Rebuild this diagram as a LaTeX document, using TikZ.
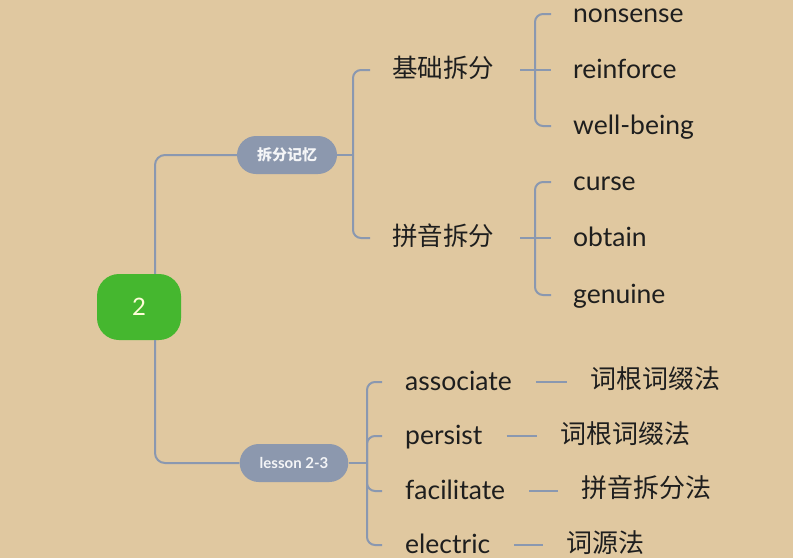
\documentclass[tikz,border=0pt]{standalone}
\usepackage{fontspec}
\setmainfont{Lato}
\newfontfamily\cjk{Noto Sans CJK SC}
\usetikzlibrary{positioning}

\definecolor{paper}{HTML}{E0C8A0}
\definecolor{linkc}{HTML}{8A98B0}
\definecolor{rootc}{HTML}{45B72F}
\definecolor{pillc}{HTML}{8C98AE}
\definecolor{inkc}{HTML}{1E1E1E}

\tikzset{
  link/.style={draw=linkc, line width=2pt},
  rootnode/.style={fill=rootc, rounded corners=22pt, minimum width=84pt, minimum height=66pt,
    text=white!85!yellow, font=\fontsize{24}{28}\selectfont},
  pill/.style={fill=pillc, rounded corners=19pt, minimum height=38pt, inner xsep=20pt,
    text=white!90!pillc, font=\fontsize{15}{18}\selectfont\bfseries},
  topic/.style={anchor=west, inner sep=0pt, text height=18pt, text depth=4pt,
    text=inkc, font=\cjk\fontsize{25.5}{30}\selectfont},
  word/.style={anchor=west, inner sep=0pt, text height=20pt, text depth=4pt,
    text=inkc, font=\fontsize{26.5}{31}\selectfont},
  method/.style={anchor=west, inner sep=0pt, text height=18pt, text depth=4pt,
    text=inkc, font=\cjk\fontsize{26}{30}\selectfont},
}

\begin{document}
\begin{tikzpicture}[x=1pt,y=-1pt]
  \fill[paper] (0,0) rectangle (793,558);
  \useasboundingbox (0,0) rectangle (793,558);

  % root and first level
  \node[rootnode] (root) at (139,307) {2};
  \node[pill] (split) at (287,155) {\cjk 拆分记忆};
  \node[pill] (lesson) at (294,463) {lesson 2-3};
  \draw[link, rounded corners=10pt] ([xshift=16pt]root.north) |- (split.west);
  \draw[link, rounded corners=10pt] ([xshift=16pt]root.south) |- (lesson.west);

  % 拆分记忆
  \node[topic] (basic) at (392,70) {基础拆分};
  \node[topic] (pinyin) at (392,238) {拼音拆分};
  \coordinate (jsplit) at (353,155);
  \draw[link] (split.east) -- (jsplit);
  \draw[link, rounded corners=8pt] (jsplit) |- ([xshift=-22pt]basic.west);
  \draw[link, rounded corners=8pt] (jsplit) |- ([xshift=-22pt]pinyin.west);

  \node[word] (nonsense) at (573,14) {nonsense};
  \node[word] (reinforce) at (573,70) {reinforce};
  \node[word] (wellbeing) at (573,126) {well-being};
  \coordinate (jbasic) at (535,70);
  \draw[link] ([xshift=26pt]basic.east) -- ([xshift=-22pt]reinforce.west);
  \draw[link, rounded corners=8pt] (jbasic) |- ([xshift=-22pt]nonsense.west);
  \draw[link, rounded corners=8pt] (jbasic) |- ([xshift=-22pt]wellbeing.west);

  \node[word] (curse) at (573,182) {curse};
  \node[word] (obtain) at (573,238) {obtain};
  \node[word] (genuine) at (573,295) {genuine};
  \coordinate (jpinyin) at (535,238);
  \draw[link] ([xshift=26pt]pinyin.east) -- ([xshift=-22pt]obtain.west);
  \draw[link, rounded corners=8pt] (jpinyin) |- ([xshift=-22pt]curse.west);
  \draw[link, rounded corners=8pt] (jpinyin) |- ([xshift=-22pt]genuine.west);

  % lesson 2-3
  \node[word] (associate) at (405,382) {associate};
  \node[word] (persist) at (405,436) {persist};
  \node[word] (facilitate) at (405,491) {facilitate};
  \node[word] (electric) at (405,545) {electric};
  \coordinate (jlesson) at (367,463);
  \draw[link] (lesson.east) -- (jlesson);
  \foreach \w in {associate,persist,facilitate,electric}
    \draw[link, rounded corners=8pt] (jlesson) |- ([xshift=-23pt]\w.west);

  \node[method] (assocM) at (590,381) {词根词缀法};
  \node[method] (persistM) at (560,436) {词根词缀法};
  \node[method] (faciliM) at (581,490) {拼音拆分法};
  \node[method] (electM) at (566,545) {词源法};
  \draw[link, shorten <=24pt, shorten >=23pt] (associate.east) -- (assocM.west |- associate.east);
  \draw[link, shorten <=24pt, shorten >=23pt] (persist.east) -- (persistM.west |- persist.east);
  \draw[link, shorten <=24pt, shorten >=23pt] (facilitate.east) -- (faciliM.west |- facilitate.east);
  \draw[link, shorten <=24pt, shorten >=23pt] (electric.east) -- (electM.west |- electric.east);
\end{tikzpicture}
\end{document}
